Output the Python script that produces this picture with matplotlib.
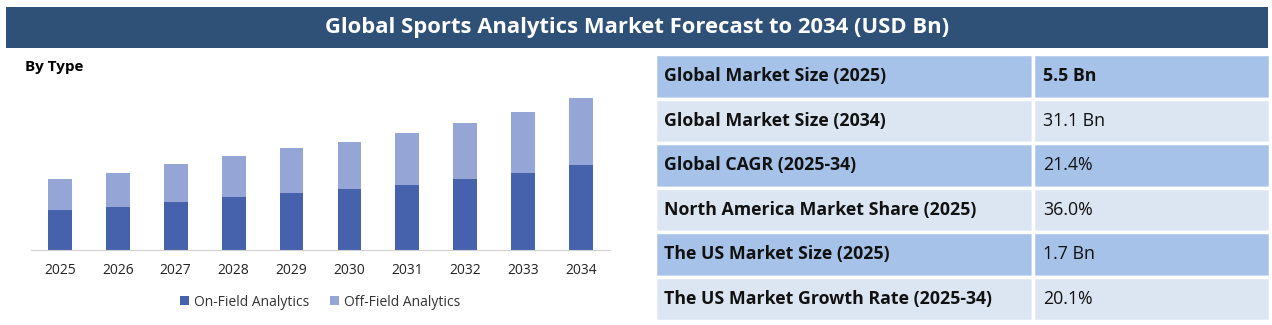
import matplotlib.pyplot as plt
from matplotlib.patches import Rectangle

plt.rcParams['font.family'] = ['Open Sans', 'DejaVu Sans']

years = ['2025', '2026', '2027', '2028', '2029', '2030', '2031', '2032', '2033', '2034']
on_field = [39.7, 43.0, 48.0, 53.0, 57.0, 60.7, 65.3, 70.7, 77.0, 85.0]
off_field = [31.3, 34.0, 37.7, 41.3, 45.0, 47.3, 51.7, 56.3, 61.0, 67.0]

table_labels = ['Global Market Size (2025)', 'Global Market Size (2034)', 'Global CAGR (2025-34)',
                'North America Market Share (2025)', 'The US Market Size (2025)',
                'The US Market Growth Rate (2025-34)']
table_values = ['5.5 Bn', '31.1 Bn', '21.4%', '36.0%', '1.7 Bn', '20.1%']

W, H = 1272, 325
fig = plt.figure(figsize=(W / 100, H / 100), dpi=100)

def box(x0, y0, x1, y1):
    # pixel box (top-left origin) -> figure fraction rect
    return [x0 / W, 1 - y1 / H, (x1 - x0) / W, (y1 - y0) / H]

# header band
hdr = fig.add_axes(box(6, 7, 1268, 48))
hdr.set_facecolor('#2f5077')
hdr.set_xticks([]); hdr.set_yticks([])
for s in hdr.spines.values():
    s.set_visible(False)
hdr.text(0.5, 0.5, 'Global Sports Analytics Market Forecast to 2034 (USD Bn)', color='white',
         fontsize=15.8, fontweight='bold', ha='center', va='center', transform=hdr.transAxes)

fig.text(25 / W, 1 - 67 / H, 'By Type', fontsize=11, fontweight='bold', va='center')

# stacked bars
ax = fig.add_axes(box(31, 90, 610, 250))
x = range(len(years))
ax.bar(x, on_field, width=0.41, color='#4762ad', label='On-Field Analytics')
ax.bar(x, off_field, width=0.41, bottom=on_field, color='#94a5d6', label='Off-Field Analytics')
ax.set_xlim(-0.5, 9.5)
ax.set_ylim(0, 160)
ax.set_xticks(list(x))
ax.set_xticklabels(years, fontsize=10, color='#222222')
ax.tick_params(axis='x', length=0, pad=9)
ax.set_yticks([])
for k in ['top', 'left', 'right']:
    ax.spines[k].set_visible(False)
ax.spines['bottom'].set_color('#d0d0d0')
ax.legend(loc='upper center', bbox_to_anchor=(0.5, -0.2), ncol=2, frameon=False, fontsize=10,
          handlelength=0.6, handleheight=0.6, handletextpad=0.4, columnspacing=1.5,
          labelcolor='#333333')

# key figures table
tab = fig.add_axes(box(0, 0, W, H))
tab.set_xlim(0, W)
tab.set_ylim(H, 0)
tab.axis('off')
row_top = 54
row_h = 44.5
for i, (lab, val) in enumerate(zip(table_labels, table_values)):
    y0 = row_top + i * row_h
    fc = '#a6c2e8' if i % 2 == 0 else '#dce6f2'
    tab.add_patch(Rectangle((655, y0), 1033 - 655, row_h, facecolor=fc, edgecolor='white', lw=2.5))
    tab.add_patch(Rectangle((1033, y0), 1270 - 1033, row_h, facecolor=fc, edgecolor='white', lw=2.5))
    ym = y0 + row_h / 2
    tab.text(664, ym, lab, fontsize=12.8, fontweight='bold', va='center', color='#111111')
    tab.text(1043, ym, val, fontsize=12.8, fontweight='bold' if i == 0 else 'normal',
             va='center', color='#111111')

fig.savefig('out.png', dpi=100, facecolor='white')
